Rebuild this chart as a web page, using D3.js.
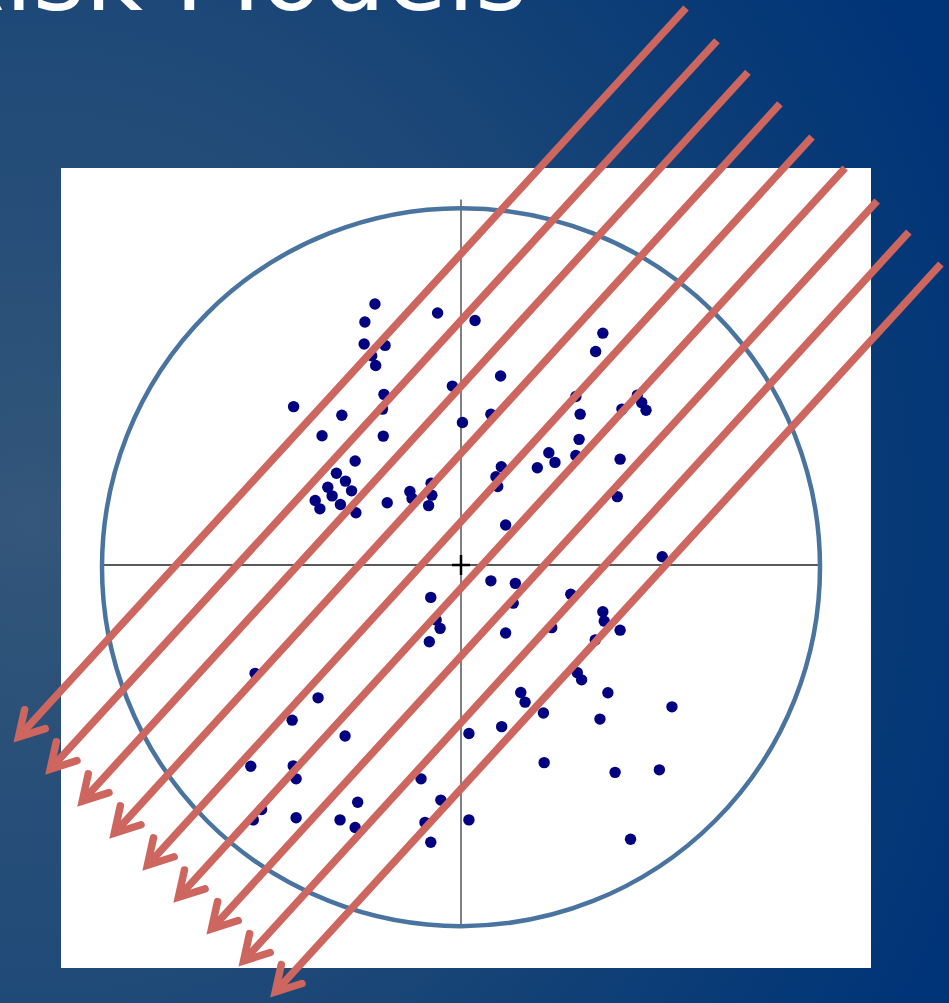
<!DOCTYPE html>
<html><head><meta charset="utf-8">
<script src="https://cdn.jsdelivr.net/npm/d3@7/dist/d3.min.js"></script>
<style>html,body{margin:0;padding:0;overflow:hidden;background:#1d4877}</style>
</head><body>
<script>
// Title
const titleText = "Risk Models";

// Scatter points (data units, circle radius = 100)
const pointX = [-23.9,-26.7,-6.5,3.9,-26.9,-21.1,-24.8,-23.7,-21.4,-21.8,-46.5,-33.1,-38.6,-21.6,-2.4,0.4,8.3,-29.4,-34.6,-32.1,-37.0,-30.4,-35.8,-40.5,-39.2,-33.5,-29.2,-20.5,-14.2,-13.6,-8.3,-8.1,-9.0,
  39.4,37.4,11.0,31.9,33.1,49.0,50.2,51.4,44.7,32.8,24.4,26.1,21.2,31.9,44.2,11.2,9.7,10.2,43.4,12.4,
  -8.4,-6.9,-5.8,-8.8,-57.2,-39.7,-46.9,-32.2,-58.4,-46.6,-45.8,-11.1,-5.6,-55.4,-57.7,-45.8,-28.7,-33.6,-29.4,-10.0,-8.4,
  55.9,8.3,15.1,14.5,30.5,39.4,39.8,44.2,25.2,12.4,37.3,32.3,33.5,40.8,16.6,17.8,22.9,38.6,58.6,2.2,11.3,23.1,42.8,55.1,2.2,47.1];
const pointY = [72.5,67.5,70.0,67.9,61.4,61.0,58.1,55.4,47.4,43.3,44.0,41.6,35.9,35.8,49.7,39.6,41.9,28.9,25.5,23.3,21.6,20.6,19.2,17.9,15.6,16.8,14.5,17.3,20.4,18.5,22.7,19.4,16.5,
  64.4,59.3,52.5,46.8,41.9,47.2,45.1,43.0,43.3,34.9,31.2,28.5,27.0,30.4,29.4,27.3,24.5,21.8,19.0,11.1,
  -9.0,-15.3,-17.6,-21.3,-30.1,-36.9,-43.1,-47.5,-55.9,-55.8,-59.4,-59.4,-65.3,-67.9,-70.8,-70.2,-65.9,-70.8,-72.9,-71.5,-77.0,
  2.3,-4.4,-5.1,-10.6,-8.1,-13.0,-15.6,-18.1,-17.4,-18.9,-20.8,-29.9,-31.9,-35.5,-35.4,-38.1,-41.1,-42.8,-39.4,-46.8,-44.9,-54.9,-57.6,-56.9,-70.8,-76.2];

// Arrows (data units): tail (upper right) and head (lower left)
const arrowTailX = [62.5,71.1,79.7,88.6,97.5,106.7,115.6,124.4,133.3];
const arrowTailY = [154.7,145.6,136.9,128.1,118.9,110.3,101.1,92.5,83.6];
const arrowHeadX = [-122.9,-114.1,-105.2,-96.3,-87.1,-78.5,-69.3,-60.4,-51.6];
const arrowHeadY = [-47.8,-56.7,-65.6,-74.5,-83.4,-92.3,-101.1,-110.0,-118.6];

const W = 949, H = 1003;
const svg = d3.select("body").append("svg").attr("width", W).attr("height", H);
const defs = svg.append("defs");
const grad = defs.append("radialGradient").attr("id","bg")
  .attr("gradientUnits","userSpaceOnUse").attr("cx",30).attr("cy",520).attr("r",1000);
[[0,"#34577a"],[0.15,"#2d5279"],[0.53,"#1d4877"],[0.8,"#0b3c76"],[1,"#003478"]]
  .forEach(s => grad.append("stop").attr("offset",s[0]).attr("stop-color",s[1]));
svg.append("rect").attr("width",W).attr("height",H).attr("fill","url(#bg)");

// white panel
svg.append("rect").attr("x",61).attr("y",168).attr("width",810).attr("height",800).attr("fill","#ffffff");

const x = d3.scaleLinear().domain([-100,100]).range([101,821]);
const y = d3.scaleLinear().domain([-100,100]).range([925,205]);

// axes
svg.append("line").attr("x1",x(0)).attr("x2",x(0)).attr("y1",y(101.5)).attr("y2",y(-100.5))
  .attr("stroke","#808080").attr("stroke-width",2);
svg.append("line").attr("x1",x(-100)).attr("x2",x(100)).attr("y1",y(0)).attr("y2",y(0))
  .attr("stroke","#222").attr("stroke-width",1.3);
// center cross
svg.append("path").attr("d",`M${x(0)-9},${y(0)}H${x(0)+9}M${x(0)},${y(0)-10}V${y(0)+10}`)
  .attr("stroke","#000").attr("stroke-width",2.5).attr("fill","none");

// circle
svg.append("circle").attr("cx",x(0)).attr("cy",y(-0.6)).attr("r",x(100)-x(0)-1)
  .attr("fill","none").attr("stroke","#4a74a0").attr("stroke-width",4.5);

// points
svg.append("g").selectAll("circle").data(d3.range(pointX.length)).join("circle")
  .attr("cx",i=>x(pointX[i])).attr("cy",i=>y(pointY[i])).attr("r",5.7).attr("fill","#000080");

// arrows
const red = "#cc665f", sw = 7.5, armLen = 28, half = 30*Math.PI/180;
const ag = svg.append("g");
arrowTailX.forEach((_,i)=>{
  const x1 = x(arrowTailX[i]), y1 = y(arrowTailY[i]);
  const x2 = x(arrowHeadX[i]), y2 = y(arrowHeadY[i]);
  ag.append("line").attr("x1",x1).attr("y1",y1).attr("x2",x2).attr("y2",y2)
    .attr("stroke",red).attr("stroke-width",sw).attr("stroke-linecap","butt");
  const back = Math.atan2(y1-y2, x1-x2);
  const a1 = [x2+armLen*Math.cos(back+half), y2+armLen*Math.sin(back+half)];
  const a2 = [x2+armLen*Math.cos(back-half), y2+armLen*Math.sin(back-half)];
  ag.append("path").attr("d",`M${a1[0]},${a1[1]}L${x2},${y2}L${a2[0]},${a2[1]}`)
    .attr("fill","none").attr("stroke",red).attr("stroke-width",sw)
    .attr("stroke-linecap","round").attr("stroke-linejoin","miter");
});

// title
svg.append("text").attr("x",527).attr("y",10).attr("text-anchor","end")
  .attr("font-family","DejaVu Sans").attr("font-size",100).attr("fill","#ffffff")
  .text(titleText);
</script></body></html>
